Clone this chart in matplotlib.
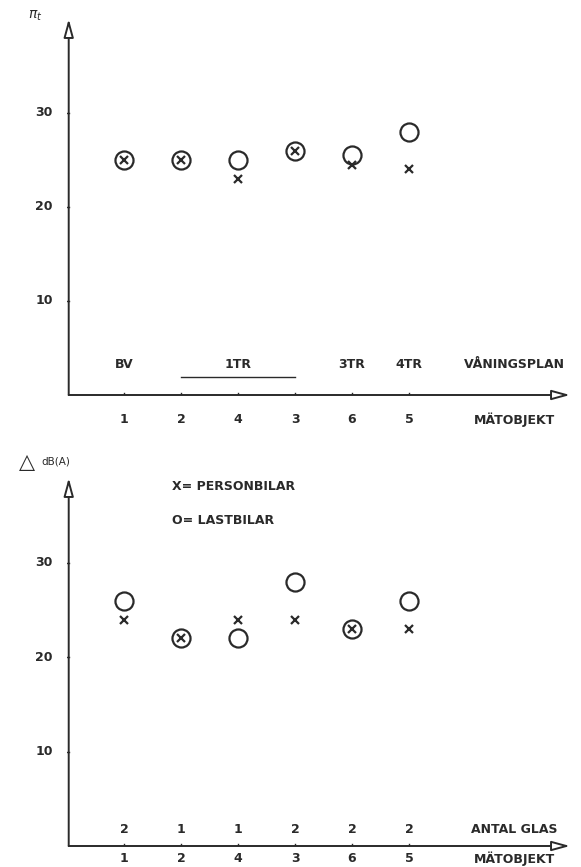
import matplotlib.pyplot as plt
import numpy as np

# measurement objects in the order they are plotted
objekt = ["1", "2", "4", "3", "6", "5"]

# upper chart
top_person = [25, 25, 23, 26, 24.5, 24]
top_last = [25, 25, 25, 26, 25.5, 28]
vaning = ["BV", "1TR", "3TR", "4TR"]
vaning_pos = [1, 3, 5, 6]

# lower chart
bot_person = [24, 22, 24, 24, 23, 23]
bot_last = [26, 22, 22, 28, 23, 26]
antal_glas = ["2", "1", "1", "2", "2", "2"]

yticks = [10, 20, 30]

plt.rcParams['font.family'] = ['DejaVu Sans']
INK = '#2a2a2a'
TXT = dict(ha='center', va='center', fontsize=9, fontweight='semibold', color=INK)

fig = plt.figure(figsize=(5.81, 8.67), dpi=100)

W, H = 581.0, 867.0
x_left, x_right = 67, 570
xmax = (x_right - x_left) / 57.0


def make_axes(y0_px, ytop_px, ymax):
    ax = fig.add_axes([x_left / W, 1 - y0_px / H, (x_right - x_left) / W,
                       (y0_px - ytop_px) / H])
    ax.set_xlim(0, xmax)
    ax.set_ylim(0, ymax)
    for s in ax.spines.values():
        s.set_visible(False)
    ax.set_xticks([])
    ax.set_yticks([])
    ax.patch.set_alpha(0)
    # axes with open arrow heads
    arrow = dict(arrowstyle='-|>,head_length=1.1,head_width=0.3',
                 fc='white', ec=INK, lw=1.4, shrinkA=0, shrinkB=0)
    ax.annotate('', xy=(0.03, ymax), xytext=(0.03, 0), arrowprops=arrow,
                annotation_clip=False)
    ax.annotate('', xy=(xmax, 0), xytext=(0.03, 0), arrowprops=arrow,
                annotation_clip=False)
    for t in yticks:
        ax.plot([-0.03, 0.03], [t, t], color=INK, lw=1)
        ax.text(-0.25, t, str(t), ha='right', va='center', fontsize=9,
                fontweight='bold', color=INK)
    x = np.arange(1, len(objekt) + 1)
    for xi in x:
        ax.plot([xi, xi], [-0.25, 0.25], color=INK, lw=1)
    return ax, x


def draw_points(ax, x, person, last):
    ax.plot(x, last, linestyle='none', marker='o', markersize=13,
            markerfacecolor='none', markeredgecolor=INK, markeredgewidth=1.6)
    ax.plot(x, person, linestyle='none', marker='x', markersize=6,
            markeredgecolor=INK, markeredgewidth=1.6)


# ---- upper chart ----
ax1, x = make_axes(395, 19, 40)
draw_points(ax1, x, top_person, top_last)
for xi, lab in zip(x, objekt):
    ax1.text(xi, -2.6, lab, **TXT)
ax1.text(7.85, -2.6, "MÄTOBJEKT", **TXT)
for p, lab in zip(vaning_pos, vaning):
    ax1.text(p, 3.2, lab, **TXT)
ax1.plot([2, 4], [1.95, 1.95], color=INK, lw=1)
ax1.text(7.85, 3.2, "VÅNINGSPLAN", **TXT)
ax1.text(-0.55, 40.3, r"$\pi_t$", ha='center', va='center', fontsize=10,
         color=INK)

# ---- lower chart ----
ax2, x = make_axes(846, 478, 39)
draw_points(ax2, x, bot_person, bot_last)
for xi, lab in zip(x, objekt):
    ax2.text(xi, -1.3, lab, **TXT)
    ax2.text(xi, 1.7, antal_glas[xi - 1], **TXT)
ax2.text(7.85, -1.3, "MÄTOBJEKT", **TXT)
ax2.text(7.85, 1.7, "ANTAL GLAS", **TXT)
ax2.text(-0.7, 40.7, "△", ha='center', va='center', fontsize=15, color=INK)
ax2.text(-0.19, 40.7, "dB(A)", ha='center', va='center', fontsize=7.5,
         color=INK)
ax2.text(1.85, 38.1, "X= PERSONBILAR", ha='left', va='center', fontsize=9,
         fontweight='semibold', color=INK)
ax2.text(1.85, 34.5, "O= LASTBILAR", ha='left', va='center', fontsize=9,
         fontweight='semibold', color=INK)

fig.savefig("out.png", dpi=100)
